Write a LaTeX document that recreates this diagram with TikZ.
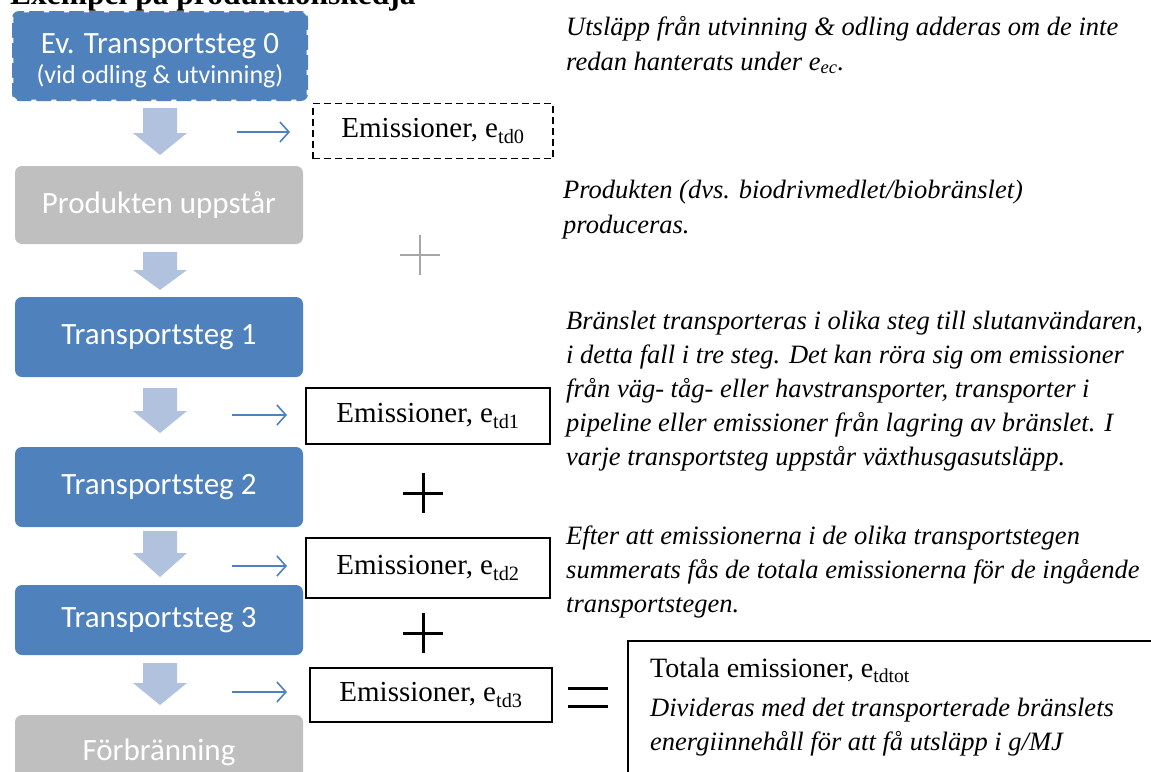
\documentclass[tikz,border=0pt]{standalone}
\usepackage{fontspec}
\setmainfont{Liberation Serif}
\newfontfamily\calib{Carlito}
\usetikzlibrary{arrows.meta}
\definecolor{boxblue}{HTML}{4F81BD}
\definecolor{arrblue}{HTML}{B0C2DE}
\definecolor{boxgray}{HTML}{BFBFBF}
\definecolor{plusgray}{HTML}{A6A6A6}
\newcommand\blockarr[3]{\fill[arrblue] (143,#1) -- (177,#1) -- (177,#2) -- (187,#2) -- (160,#3) -- (133,#2) -- (143,#2) -- cycle;}
\tikzset{
  stepbox/.style={rounded corners=7pt, fill=boxblue, text=white, font=\calib\fontsize{31}{34}\selectfont, align=center, inner sep=0, minimum width=288pt},
  graybox/.style={stepbox, fill=boxgray},
  embox/.style={draw=black, line width=1.4pt, inner sep=0, font=\fontsize{29}{32}\selectfont},
  desc/.style={font=\itshape\fontsize{26.5}{30}\selectfont, anchor=base west, inner sep=0},
  totline/.style={font=\fontsize{28}{30}\selectfont, anchor=base west, inner sep=0},
  smallarr/.style={draw=boxblue, line width=1.6pt, -{Straight Barb[length=9pt, width=20pt, line width=1.6pt]}},
  plusline/.style={line width=3pt},
}
\begin{document}
\begin{tikzpicture}[x=1pt,y=-1pt]
\useasboundingbox (0,0) rectangle (1151,771);
% title (cut at top)
\node[font=\bfseries\fontsize{31.5}{34}\selectfont, anchor=base west, inner sep=0] (title) at (10,5) {Exempel på produktionskedja};

% left column boxes
\node[stepbox, minimum width=296pt, minimum height=90pt] (b0) at (160,56) {};
\node[text=white, font=\calib\fontsize{31}{34}\selectfont, align=center, inner sep=0] (b0text) at (160,61) {Ev. Transportsteg 0\\[-4pt]{\fontsize{26}{30}\selectfont (vid odling \& utvinning)}};
\draw[white, line width=3pt, dash pattern=on 5pt off 15pt, rounded corners=7pt] (b0.north west) rectangle (b0.south east);
\node[graybox, minimum height=78pt] (prod) at (159,205) {Produkten uppstår};
\node[stepbox, minimum height=80pt] (t1) at (159,337) {Transportsteg 1};
\node[stepbox, minimum height=80pt] (t2) at (159,487) {Transportsteg 2};
\node[stepbox, minimum height=70pt] (t3) at (159,620) {Transportsteg 3};
\node[graybox, minimum height=70pt, text depth=0pt] (forb) at (159,750) {Förbränning};

% block arrows between steps
\blockarr{108}{133}{155}
\blockarr{252}{270}{290}
\blockarr{388}{411}{433}
\blockarr{531}{553}{577}
\blockarr{663}{683}{705}

% emission boxes
\node[embox, dashed, dash pattern=on 7pt off 4pt, minimum width=240pt, minimum height=55pt] (e0) at (433,131) {Emissioner, e\textsubscript{td0}};
\node[embox, minimum width=244pt, minimum height=56pt] (e1) at (428,416) {Emissioner, e\textsubscript{td1}};
\node[embox, minimum width=244pt, minimum height=60pt] (e2) at (428,568) {Emissioner, e\textsubscript{td2}};
\node[embox, minimum width=242pt, minimum height=54pt] (e3) at (431,695) {Emissioner, e\textsubscript{td3}};

% small arrows
\coordinate (a0s) at (237,132); \coordinate (a0e) at (290,132);
\coordinate (a1s) at (232,415); \coordinate (a1e) at (287,415);
\coordinate (a2s) at (232,566); \coordinate (a2e) at (287,566);
\coordinate (a3s) at (232,692); \coordinate (a3e) at (287,692);
\draw[smallarr] (a0s) -- (a0e);
\draw[smallarr] (a1s) -- (a1e);
\draw[smallarr] (a2s) -- (a2e);
\draw[smallarr] (a3s) -- (a3e);

% plus and equals signs
\draw[plusline, plusgray, line width=2.5pt] (400,255) -- (440,255) (420,235) -- (420,275);
\draw[plusline] (403,493) -- (443,493) (423,473) -- (423,513);
\draw[plusline] (403,633) -- (443,633) (423,613) -- (423,653);
\draw[plusline] (568,688) -- (608,688) (568,706) -- (608,706);

% total box
\draw[line width=1.5pt] (628,790) -- (628,641) -- (1160,641);
\node[totline] (tot1) at (650,677) {Totala emissioner, e\textsubscript{tdtot}};
\node[desc] (tot2) at (650,716) {Divideras med det transporterade bränslets};
\node[desc] (tot3) at (650,750) {energiinnehåll för att få utsläpp i g/MJ};

% descriptions
\node[desc] (d1a) at (566,35) {Utsläpp från utvinning \& odling adderas om de inte};
\node[desc] (d1b) at (566,70) {redan hanterats under e\textsubscript{ec}.};
\node[desc] (d2a) at (563,198) {Produkten (dvs. biodrivmedlet/biobränslet)};
\node[desc] (d2b) at (563,233) {produceras.};
\node[desc] (d3a) at (566,329) {Bränslet transporteras i olika steg till slutanvändaren,};
\node[desc] (d3b) at (566,363) {i detta fall i tre steg. Det kan röra sig om emissioner};
\node[desc] (d3c) at (566,397) {från väg- tåg- eller havstransporter, transporter i};
\node[desc] (d3d) at (566,431) {pipeline eller emissioner från lagring av bränslet. I};
\node[desc] (d3e) at (566,465) {varje transportsteg uppstår växthusgasutsläpp.};
\node[desc] (d4a) at (566,544) {Efter att emissionerna i de olika transportstegen};
\node[desc] (d4b) at (566,578) {summerats fås de totala emissionerna för de ingående};
\node[desc] (d4c) at (566,612) {transportstegen.};
\end{tikzpicture}
\end{document}
